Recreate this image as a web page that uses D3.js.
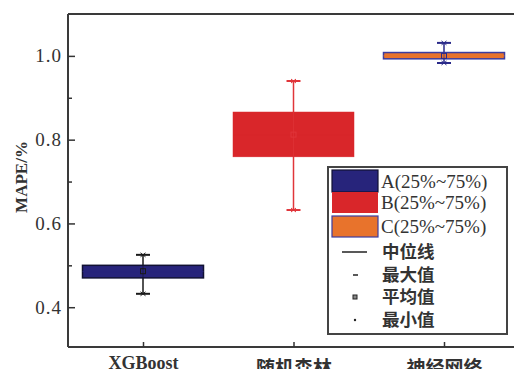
<!DOCTYPE html>
<html>
<head>
<meta charset="utf-8">
<script src="https://cdn.jsdelivr.net/npm/d3@7"></script>
<style>
  html, body { margin: 0; padding: 0; background: #fff; }
  svg { display: block; }
</style>
</head>
<body>
<svg id="chart" width="515" height="369"></svg>
<script>
// Model names on the x axis
const categories = ["XGBoost", "随机森林", "神经网络"];
// Box statistics of MAPE (%) per model
const q1Values     = [0.470, 0.759, 0.993];
const q3Values     = [0.500, 0.866, 1.008];
const medianValues = [0.485, 0.812, 1.000];
const meanValues   = [0.486, 0.812, 1.000];
const maxValues    = [0.525, 0.940, 1.031];
const minValues    = [0.432, 0.632, 0.983];
// Axis ticks
const majorTicks = [0.4, 0.6, 0.8, 1.0];
const minorTicks = [0.5, 0.7, 0.9];
// Legend entries
const boxLegendLabels = ["A(25%~75%)", "B(25%~75%)", "C(25%~75%)"];
const symbolLegendLabels = ["中位线", "最大值", "平均值", "最小值"];

const boxFill    = ["#27247b", "#d9262a", "#e8732c"];
const boxStroke  = ["#111133", "#d9262a", "#3b3da0"];
const whiskerCol = ["#1a1a1a", "#e0353a", "#2a2a8a"];

const svg = d3.select("#chart");
const plotLeft = 68, plotRight = 514, plotTop = 14, plotBottom = 347;

const y = d3.scaleLinear().domain([0.305, 1.1]).range([plotBottom, plotTop]);
const x = d3.scalePoint().domain(categories).range([143, 444]);
const boxW = 121;

const serif = "'Liberation Serif', 'Times New Roman', serif";
const cjk = "'Noto Sans CJK SC', 'Noto Sans', sans-serif";

// Frame: top line
svg.append("line")
  .attr("x1", plotLeft).attr("x2", plotRight).attr("y1", plotTop).attr("y2", plotTop)
  .attr("stroke", "#3a3a3a").attr("stroke-width", 2);

// Y axis (ticks point inward)
const yAxis = svg.append("g")
  .attr("transform", `translate(${plotLeft},0)`)
  .call(d3.axisLeft(y).tickValues(majorTicks).tickFormat(d3.format(".1f"))
    .tickSizeInner(-7).tickSizeOuter(0).tickPadding(6));
yAxis.select(".domain").attr("d", `M0,${plotTop}V${plotBottom}`)
  .attr("stroke", "#3a3a3a").attr("stroke-width", 2);
yAxis.selectAll(".tick line").attr("stroke", "#333").attr("stroke-width", 1.5);
yAxis.selectAll(".tick text")
  .attr("font-family", serif).attr("font-size", 19)
  .attr("letter-spacing", 1).attr("fill", "#333");

const yMinor = svg.append("g")
  .attr("transform", `translate(${plotLeft},0)`)
  .call(d3.axisLeft(y).tickValues(minorTicks).tickFormat("")
    .tickSizeInner(-4).tickSizeOuter(0));
yMinor.select(".domain").remove();
yMinor.selectAll(".tick line").attr("stroke", "#333").attr("stroke-width", 1.5);

// X axis (ticks point inward)
const xAxis = svg.append("g")
  .attr("transform", `translate(0,${plotBottom})`)
  .call(d3.axisBottom(x).tickSizeInner(-5).tickSizeOuter(0));
xAxis.select(".domain").attr("d", `M${plotLeft},0H${plotRight}`)
  .attr("stroke", "#3a3a3a").attr("stroke-width", 2);
xAxis.selectAll(".tick line").attr("stroke", "#333").attr("stroke-width", 1.5);
xAxis.selectAll(".tick text")
  .attr("dy", null)
  .attr("y", d => d === "XGBoost" ? 22 : 28)
  .attr("font-family", d => d === "XGBoost" ? serif : cjk)
  .attr("font-size", d => d === "XGBoost" ? 18 : 19)
  .attr("font-weight", "bold")
  .attr("fill", "#333");

// Y title
svg.append("text")
  .attr("transform", "translate(27,177) rotate(-90)")
  .attr("text-anchor", "middle")
  .attr("font-family", serif).attr("font-size", 17).attr("font-weight", "bold")
  .attr("fill", "#333")
  .text("MAPE/%");

// Boxes
const data = categories.map((c, i) => ({
  c, i, q1: q1Values[i], q3: q3Values[i], med: medianValues[i],
  mean: meanValues[i], max: maxValues[i], min: minValues[i]
}));

const g = svg.append("g");
data.forEach(d => {
  const cx = x(d.c);
  const grp = g.append("g");
  // whisker
  grp.append("line")
    .attr("x1", cx).attr("x2", cx).attr("y1", y(d.max)).attr("y2", y(d.min))
    .attr("stroke", whiskerCol[d.i]).attr("stroke-width", 1.5);
  // box
  grp.append("rect")
    .attr("x", cx - boxW / 2).attr("width", boxW)
    .attr("y", y(d.q3)).attr("height", y(d.q1) - y(d.q3))
    .attr("fill", boxFill[d.i])
    .attr("stroke", boxStroke[d.i]).attr("stroke-width", d.i === 1 ? 0.5 : 1.5);
  // median
  grp.append("line")
    .attr("x1", cx - boxW / 2).attr("x2", cx + boxW / 2)
    .attr("y1", y(d.med)).attr("y2", y(d.med))
    .attr("stroke", boxFill[d.i]).attr("stroke-width", 1);
  // whisker inside box
  grp.append("line")
    .attr("x1", cx).attr("x2", cx).attr("y1", y(d.q3)).attr("y2", y(d.q1))
    .attr("stroke", whiskerCol[d.i]).attr("stroke-width", 1).attr("opacity", 0.6);
  // caps (max / min)
  [d.max, d.min].forEach(v => {
    grp.append("line")
      .attr("x1", cx - 7).attr("x2", cx + 7).attr("y1", y(v)).attr("y2", y(v))
      .attr("stroke", whiskerCol[d.i]).attr("stroke-width", 2);
    grp.append("line")
      .attr("x1", cx - 2.5).attr("x2", cx + 2.5).attr("y1", y(v) - 2).attr("y2", y(v) + 2)
      .attr("stroke", whiskerCol[d.i]).attr("stroke-width", 1);
    grp.append("line")
      .attr("x1", cx - 2.5).attr("x2", cx + 2.5).attr("y1", y(v) + 2).attr("y2", y(v) - 2)
      .attr("stroke", whiskerCol[d.i]).attr("stroke-width", 1);
  });
  // mean
  grp.append("rect")
    .attr("x", cx - 2.5).attr("y", y(d.mean) - 2.5).attr("width", 5).attr("height", 5)
    .attr("fill", "none").attr("stroke", whiskerCol[d.i]).attr("stroke-width", 1);
});

// Legend
const lg = svg.append("g");
lg.append("rect")
  .attr("x", 328).attr("y", 167).attr("width", 179).attr("height", 167)
  .attr("fill", "#fff").attr("stroke", "#444").attr("stroke-width", 2);

const swatchY = [170, 192, 216];
const swatchH = [22, 21, 21];
boxLegendLabels.forEach((t, i) => {
  lg.append("rect")
    .attr("x", 332).attr("y", swatchY[i]).attr("width", 46).attr("height", swatchH[i])
    .attr("fill", boxFill[i])
    .attr("stroke", i === 1 ? "none" : (i === 0 ? "#111133" : "#3b3da0"))
    .attr("stroke-width", 1.2);
  lg.append("text")
    .attr("x", 381).attr("y", swatchY[i] + swatchH[i] / 2)
    .attr("dy", "0.35em")
    .attr("font-family", serif).attr("font-size", 19).attr("fill", "#333")
    .text(t);
});

const symRowY = [252, 275, 297, 320];
symbolLegendLabels.forEach((t, i) => {
  lg.append("text")
    .attr("x", 382).attr("y", symRowY[i]).attr("dy", "0.36em")
    .attr("font-family", cjk).attr("font-size", 17.5).attr("font-weight", "bold")
    .attr("fill", "#333")
    .text(t);
});
// median symbol
lg.append("line").attr("x1", 342).attr("x2", 367).attr("y1", symRowY[0]).attr("y2", symRowY[0])
  .attr("stroke", "#222").attr("stroke-width", 1.5);
// max symbol
lg.append("line").attr("x1", 353).attr("x2", 358).attr("y1", symRowY[1]).attr("y2", symRowY[1])
  .attr("stroke", "#222").attr("stroke-width", 1.5);
// mean symbol
lg.append("rect").attr("x", 353).attr("y", symRowY[2] - 2).attr("width", 4).attr("height", 4)
  .attr("fill", "#888").attr("stroke", "#222").attr("stroke-width", 1);
// min symbol
lg.append("circle").attr("cx", 355).attr("cy", symRowY[3]).attr("r", 1.2).attr("fill", "#222");
</script>
</body>
</html>
